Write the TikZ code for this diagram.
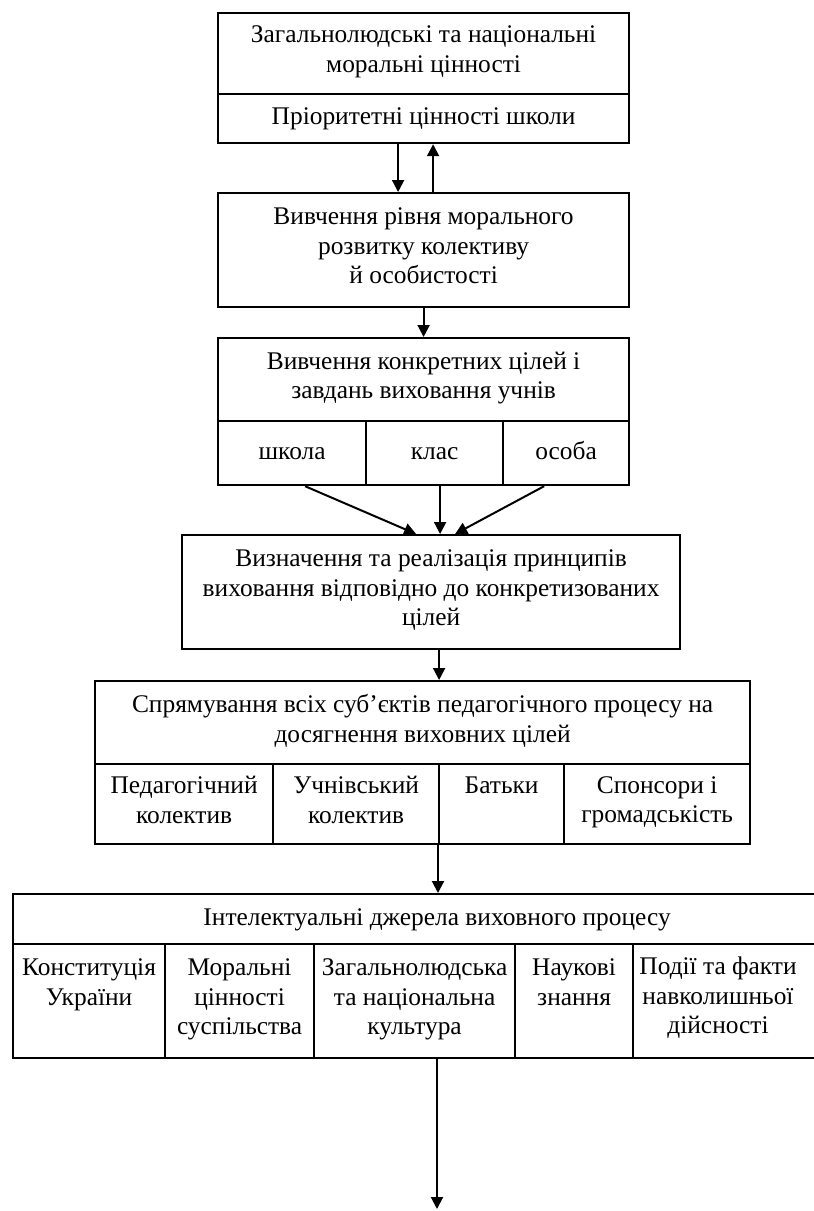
\documentclass[tikz,border=0pt]{standalone}
\usepackage{fontspec}
\setmainfont{Liberation Serif}
\usetikzlibrary{arrows.meta}

\begin{document}
\begin{tikzpicture}[x=1pt, y=-1pt,
        cell/.style={draw, line width=2.2pt, anchor=north west, inner sep=0pt, align=center,
            font=\fontsize{25.4}{29.5}\selectfont,
            execute at begin node=\strut, execute at end node=\strut},
        arr/.style={-{Triangle[length=12pt, width=12pt]}, line width=2pt}]
                \useasboundingbox (0,0) rectangle (814,1211);
                \clip (0,0) rectangle (814,1211);

                % Values
                \node[cell, minimum width=411pt, minimum height=81pt] (b1a) at (217,12) {Загальнолюдські та національні\\моральні цінності};
                \node[cell, minimum width=411pt, minimum height=49pt] (b1b) at (217,93) {Пріоритетні цінності школи};

                % Study of moral level
                \node[cell, minimum width=411pt, minimum height=114pt] (b2) at (217,192) {Вивчення рівня морального\\розвитку колективу\\й особистості};

                % Goals and tasks
                \node[cell, minimum width=411pt, minimum height=83pt] (b3) at (217,337) {Вивчення конкретних цілей і\\завдань виховання  учнів};
                \node[cell, minimum width=148pt, minimum height=64pt] (b3a) at (217,420) {школа};
                \node[cell, minimum width=137pt, minimum height=64pt] (b3b) at (365,420) {клас};
                \node[cell, minimum width=126pt, minimum height=64pt] (b3c) at (502,420) {особа};

                % Principles
                \node[cell, minimum width=498pt, minimum height=114pt] (b4) at (181,534) {Визначення та реалізація принципів\\виховання відповідно до конкретизованих\\цілей};

                % Subjects
                \node[cell, minimum width=655pt, minimum height=83pt] (b5) at (94,680) {Спрямування всіх суб’єктів педагогічного процесу на\\досягнення виховних цілей};
                \node[cell, minimum width=178pt, minimum height=80pt] (c51) at (94,763) {Педагогічний\\колектив};
                \node[cell, minimum width=166pt, minimum height=80pt] (c52) at (272,763) {Учнівський\\колектив};
                \node[cell, minimum width=125pt, minimum height=80pt] (c53) at (438,763) {Батьки\\};
                \node[cell, minimum width=186pt, minimum height=80pt] (c54) at (563,763) {Спонсори і\\громадськість};

                % Sources
                \node[cell, minimum width=848pt, minimum height=50pt] (b6) at (12,893) {Інтелектуальні джерела виховного процесу};
                \node[cell, minimum width=152pt, minimum height=114pt] (c61) at (12,943) {Конституція\\України\\};
                \node[cell, minimum width=149pt, minimum height=114pt] (c62) at (164,943) {Моральні\\цінності\\суспільства};
                \node[cell, minimum width=201pt, minimum height=114pt] (c63) at (313,943) {Загальнолюдська\\та національна\\культура};
                \node[cell, minimum width=118pt, minimum height=114pt] (c64) at (514,943) {Наукові\\знання\\};
                \node[cell, minimum width=228pt, minimum height=114pt] (c65) at (632,943) {};
                \node[cell, draw=none, anchor=center] (t65) at (718,1000) {Події та факти\\навколишньої\\дійсності};

                \coordinate (end) at (437,1209);

                % Connections
                \draw[arr] ([xshift=-25.5pt]b1b.south) -- ([xshift=-25.5pt]b1b.south |- b2.north);
                \draw[arr] ([xshift=9.5pt]b2.north -| b1b.south) -- ([xshift=9.5pt]b1b.south);
                \draw[arr] (b2.south) -- (b3.north);

                \draw[arr] ([xshift=13pt]b3a.south) -- ([xshift=-15pt]b4.north);
                \draw[arr] ([xshift=5.5pt]b3b.south) -- ([xshift=5.5pt]b3b.south |- b4.north);
                \draw[arr] ([xshift=-22pt]b3c.south) -- ([xshift=24pt]b4.north);

                \draw[arr] ([xshift=8pt]b4.south) -- ([xshift=8pt]b4.south |- b5.north);
                \draw[arr] (c53.south west) -- (c53.south west |- b6.north);
                \draw[arr] (c63.south west -| end) -- (end);
            \end{tikzpicture}
\end{document}
